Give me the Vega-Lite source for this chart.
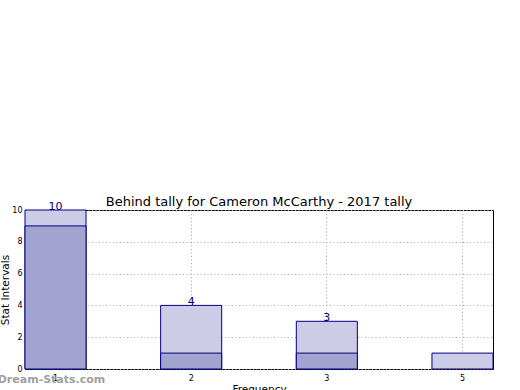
{
  "$schema": "https://vega.github.io/schema/vega-lite/v6.json",
  "autosize": "none",
  "width": 468,
  "height": 159,
  "padding": {"left": 25, "top": 210, "right": 27, "bottom": 21},
  "background": "white",
  "config": {
    "font": "DejaVu Sans",
    "view": {"stroke": "black", "strokeWidth": 1},
    "axis": {
      "domain": false,
      "grid": true,
      "gridColor": "#a8a8a8",
      "gridDash": [1, 2.5],
      "gridWidth": 1,
      "tickColor": "black",
      "tickSize": -4,
      "labelFontSize": 8,
      "labelColor": "black",
      "labelOverlap": false,
      "titleFontSize": 10.5,
      "titleFontWeight": "normal",
      "titleColor": "black"
    }
  },
  "title": {
    "text": "Behind tally for Cameron McCarthy - 2017 tally",
    "fontSize": 13,
    "fontWeight": "normal",
    "color": "black",
    "offset": -8
  },
  "data": {
    "values": [
      {"freq": "1", "total": 10, "part": 9},
      {"freq": "2", "total": 4, "part": 1},
      {"freq": "3", "total": 3, "part": 1},
      {"freq": "5", "total": 1, "part": 0}
    ]
  },
  "encoding": {
    "x": {
      "field": "freq",
      "type": "ordinal",
      "sort": null,
      "scale": {"paddingInner": 0.55, "paddingOuter": 0},
      "axis": {"title": "Frequency", "labelAngle": 0, "labelPadding": 9, "bandPosition": 0.5, "titlePadding": 2}
    }
  },
  "layer": [
    {
      "mark": {"type": "bar", "fill": "#ccccE6", "stroke": "#000080", "strokeWidth": 1, "cornerRadius": 0},
      "encoding": {
        "y": {
          "field": "total",
          "type": "quantitative",
          "scale": {"domain": [0, 10], "nice": false},
          "axis": {"title": "Stat Intervals", "values": [0, 2, 4, 6, 8, 10], "labelPadding": 7, "titlePadding": 1}
        }
      }
    },
    {
      "mark": {"type": "bar", "fill": "#a3a3d1", "stroke": "#000080", "strokeWidth": 1},
      "transform": [{"filter": "datum.part > 0"}],
      "encoding": {
        "y": {"field": "part", "type": "quantitative", "axis": {"title": "Stat Intervals", "values": [0, 2, 4, 6, 8, 10], "labelPadding": 7, "titlePadding": 1}}
      }
    },
    {
      "mark": {"type": "text", "color": "#000080", "fontSize": 11, "baseline": "bottom", "dy": 2},
      "transform": [{"filter": "datum.total > 1"}],
      "encoding": {
        "y": {"field": "total", "type": "quantitative", "axis": {"title": "Stat Intervals", "values": [0, 2, 4, 6, 8, 10], "labelPadding": 7, "titlePadding": 1}},
        "text": {"field": "total", "type": "quantitative"}
      }
    },
    {
      "data": {"values": [{"freq": "1", "y": 0, "mark": "Dream-Stats.com"}]},
      "mark": {"type": "text", "color": "#a0a0a0", "fontSize": 11, "fontWeight": "bold", "baseline": "middle", "dx": -4, "dy": 11},
      "encoding": {
        "y": {"field": "y", "type": "quantitative", "axis": {"title": "Stat Intervals", "values": [0, 2, 4, 6, 8, 10], "labelPadding": 7, "titlePadding": 1}},
        "text": {"field": "mark"}
      }
    }
  ]
}
